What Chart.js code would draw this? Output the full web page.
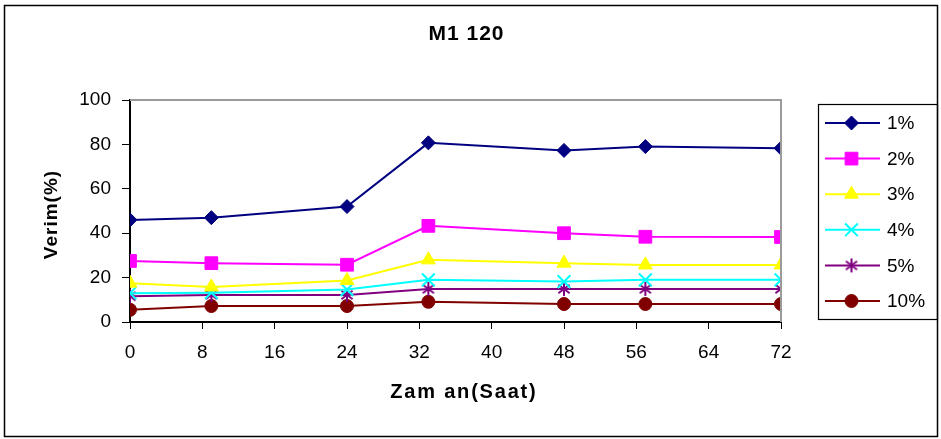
<!DOCTYPE html>
<html>
<head>
<meta charset="utf-8">
<script src="https://cdn.jsdelivr.net/npm/chart.js@4/dist/chart.umd.min.js"></script>
<style>
  html, body { margin: 0; padding: 0; background: #fff; }
  #wrap { width: 941px; height: 439px; position: relative; }
</style>
</head>
<body>
<div id="wrap"><canvas id="c" width="941" height="439"></canvas></div>
<script>
// Sampling times (hours)
const hours = [0, 9, 24, 33, 48, 57, 72];
const xTicks = [0, 8, 16, 24, 32, 40, 48, 56, 64, 72];
const yTicks = [0, 20, 40, 60, 80, 100];

// Yield (%) per concentration
const s1  = [46, 47, 52, 80.7, 77.3, 79, 78.3];
const s2  = [27.5, 26.5, 25.8, 43.3, 40, 38.4, 38.3];
const s3  = [17.5, 15.8, 18.7, 28, 26.5, 25.7, 25.7];
const s4  = [13, 13.2, 14.6, 19, 18.2, 19, 19];
const s5  = [11.6, 12.2, 12.2, 14.9, 14.9, 14.9, 14.9];
const s10 = [5.5, 7.2, 7.2, 9.1, 8.1, 8.1, 8.1];
const seriesNames = ['1%', '2%', '3%', '4%', '5%', '10%'];

const chartTitle = 'M1 120';
const xTitle = 'Zam an(Saat)';
const yTitle = 'Verim(%)';

const FONT = '"Liberation Sans", Arial, sans-serif';

// six-spoke asterisk marker
function asterisk(color, r) {
  const cv = document.createElement('canvas');
  const s = Math.ceil(r * 2 + 4);
  cv.width = s; cv.height = s;
  const g = cv.getContext('2d');
  g.strokeStyle = color; g.lineWidth = 2;
  const c = s / 2;
  g.beginPath();
  g.moveTo(c, c - r); g.lineTo(c, c + r);
  const d = r * 0.8;
  g.moveTo(c - d, c - d * 0.75); g.lineTo(c + d, c + d * 0.75);
  g.moveTo(c + d, c - d * 0.75); g.lineTo(c - d, c + d * 0.75);
  g.stroke();
  return cv;
}

const pts = a => a.map((v, i) => ({ x: hours[i], y: v }));
function ds(label, data, color, style, radius, bw) {
  return {
    label, data: pts(data), borderColor: color, backgroundColor: color,
    borderWidth: 2, pointStyle: style, pointRadius: radius, pointHoverRadius: radius,
    pointBorderWidth: bw, pointBorderColor: color, pointBackgroundColor: color, tension: 0
  };
}

const datasets = [
  ds(seriesNames[0], s1,  '#000080', 'rectRot', 7, 1),
  ds(seriesNames[1], s2,  '#FF00FF', 'rect', 9, 1),
  ds(seriesNames[2], s3,  '#FFFF00', 'triangle', 8, 1),
  ds(seriesNames[3], s4,  '#00FFFF', 'crossRot', 9, 2),
  ds(seriesNames[4], s5,  '#800080', asterisk('#800080', 7), 7, 1),
  ds(seriesNames[5], s10, '#800000', 'circle', 6.5, 1)
];

function spacedText(g, text, x, y, spacing) {
  g.letterSpacing = spacing + 'px';
  g.fillText(text, x + spacing / 2, y);
  g.letterSpacing = '0px';
}

const frame = {
  id: 'frame',
  beforeDraw(chart) {
    const g = chart.ctx;
    g.save();
    g.fillStyle = '#fff';
    g.fillRect(0, 0, chart.width, chart.height);
    g.restore();
  },
  afterDatasetsDraw(chart) {
    const g = chart.ctx, a = chart.chartArea;
    g.save();
    // plot-area border (top / right)
    g.strokeStyle = '#9a9a9a'; g.lineWidth = 2;
    g.beginPath();
    g.moveTo(a.left, a.top); g.lineTo(a.right, a.top); g.lineTo(a.right, a.bottom);
    g.stroke();
    g.restore();
  },
  afterDraw(chart) {
    const g = chart.ctx, a = chart.chartArea;
    g.save();
    // outer frame
    g.strokeStyle = '#000'; g.lineWidth = 1.5;
    g.strokeRect(4.5, 5.5, 933, 431);

    // titles
    g.fillStyle = '#000';
    g.textAlign = 'center'; g.textBaseline = 'middle';
    g.font = 'bold 21px ' + FONT;
    spacedText(g, chartTitle, 466, 34, 1);
    g.font = 'bold 20px ' + FONT;
    spacedText(g, xTitle, 463, 392, 1.8);
    g.font = 'bold 19px ' + FONT;
    g.save();
    g.translate(52, (a.top + a.bottom) / 2 + 4);
    g.rotate(-Math.PI / 2);
    spacedText(g, yTitle, 0, 0, 1);
    g.restore();

    // legend
    const lx = 818, ly = 104, lw = 119, lh = 215;
    g.lineWidth = 1.2; g.strokeStyle = '#000';
    g.strokeRect(lx + 0.5, ly + 0.5, lw, lh);
    g.font = '19px ' + FONT;
    g.textBaseline = 'middle'; g.textAlign = 'left';
    chart.data.datasets.forEach((d, i) => {
      const y = 123 + i * 35.6;
      g.strokeStyle = d.borderColor; g.lineWidth = 2;
      g.beginPath(); g.moveTo(825, y); g.lineTo(880, y); g.stroke();
      g.fillStyle = d.backgroundColor;
      g.strokeStyle = d.borderColor;
      g.lineWidth = d.pointBorderWidth;
      Chart.helpers.drawPoint(g, {
        pointStyle: d.pointStyle, radius: d.pointRadius, rotation: 0,
        borderWidth: d.pointBorderWidth
      }, 851.5, y);
      g.fillStyle = '#000';
      g.fillText(d.label, 887, y + 1);
    });
    g.restore();
  }
};

new Chart(document.getElementById('c'), {
  type: 'line',
  data: { datasets },
  options: {
    responsive: false, animation: false, events: [],
    layout: { padding: { left: 0, right: 160, top: 100, bottom: 67 } },
    plugins: {
      legend: { display: false },
      tooltip: { enabled: false },
      title: { display: false }
    },
    scales: {
      x: {
        type: 'linear', min: 0, max: 72,
        afterBuildTicks: s => { s.ticks = xTicks.map(v => ({ value: v })); },
        afterFit: s => { s.height = 50; },
        border: { color: '#000', width: 2 },
        grid: { drawOnChartArea: false, drawTicks: true, tickLength: 7, color: '#000', lineWidth: 1 },
        ticks: { color: '#000', padding: 12, maxRotation: 0, font: { family: FONT, size: 19 } }
      },
      y: {
        min: 0, max: 100,
        afterBuildTicks: s => { s.ticks = yTicks.map(v => ({ value: v })); },
        afterFit: s => { s.width = 130; },
        border: { color: '#000', width: 2 },
        grid: { drawOnChartArea: false, drawTicks: true, tickLength: 8, color: '#000', lineWidth: 1 },
        ticks: { color: '#000', padding: 11, font: { family: FONT, size: 19 } }
      }
    }
  },
  plugins: [frame]
});
</script>
</body>
</html>
